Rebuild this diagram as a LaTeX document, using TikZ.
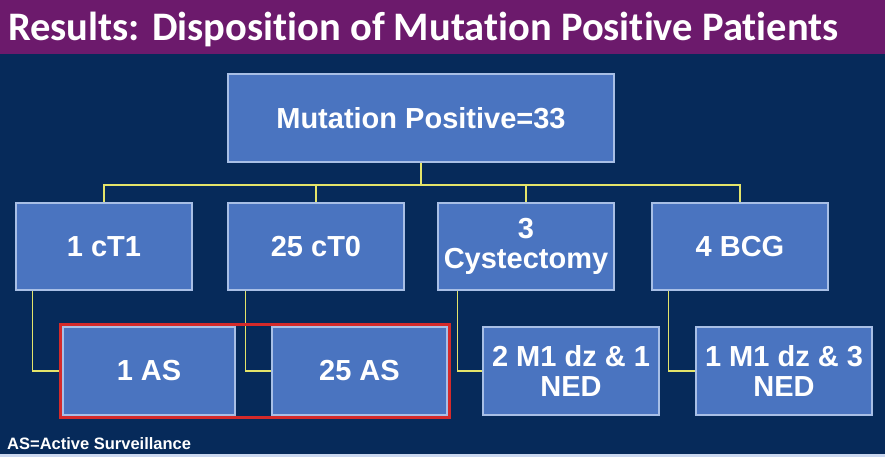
\documentclass[tikz,border=0pt]{standalone}
\usepackage{fontspec}
\setmainfont{Liberation Sans}
\newfontfamily\titlefont[Ligatures=NoCommon]{Carlito}
\usetikzlibrary{positioning, fit, calc}
\definecolor{navy}{HTML}{062A5A}
\definecolor{lila}{HTML}{6C1A6C}
\definecolor{kasten}{HTML}{4A74C0}
\definecolor{rand}{HTML}{A8BFE6}
\definecolor{linie}{HTML}{E4E46A}
\definecolor{rot}{HTML}{D42A2A}

\begin{document}
\begin{tikzpicture}[x=1pt, y=-1pt,
    box/.style={draw=rand, line width=1.2pt, fill=kasten, text=white,
      font=\fontsize{29}{30}\selectfont\bfseries, align=center,
      minimum width=176pt, minimum height=87pt, inner sep=0pt},
    conn/.style={draw=linie, line width=1.8pt},
    frame/.style={draw=rot, line width=3pt, inner sep=2pt}]
  \useasboundingbox (0,0) rectangle (885,457);
  % background and title
  \fill[navy] (0,0) rectangle (885,457);
  \fill[lila] (0,0) rectangle (885,54);
  \fill[rand!60!white] (0,454) rectangle (885,457);
  \node[anchor=base west, inner sep=0pt, text=white,
    font=\titlefont\fontsize{40.5}{41}\selectfont\bfseries] (title) at (8,41)
    {Results: Disposition of Mutation Positive Patients};
  % top box
  \node[box, minimum width=386pt, minimum height=88pt] (top) at (421,118) {Mutation Positive=33};
  % second row
  \node[box] (ct1) at (104,246.5) {1 cT1};
  \node[box] (ct0) at (316,246.5) {25 cT0};
  \node[box] (cyst) at (526,246.5) {3\\Cystectomy};
  \node[box] (bcg) at (740,246.5) {4 BCG};
  % third row
  \node[box, minimum width=172pt, minimum height=88pt] (as1) at (149,371) {1 AS};
  \node[box, minimum width=175pt, minimum height=88pt] (as25) at (359.5,371) {25 AS};
  \node[box, minimum height=88pt] (ned1) at (571,371) {2 M1 dz \& 1\\NED};
  \node[box, minimum height=88pt] (ned3) at (784,371) {1 M1 dz \& 3\\NED};
  % connectors
  \coordinate (hub) at ($(top.south)+(0,22)$);
  \foreach \c in {ct1, ct0, cyst, bcg}
    \draw[conn] (top.south) -- (hub) -| (\c.north);
  \draw[conn] ([xshift=17pt]ct1.south west) |- (as1.west);
  \draw[conn] ([xshift=18pt]ct0.south west) |- (as25.west);
  \draw[conn] ([xshift=20pt]cyst.south west) |- (ned1.west);
  \draw[conn] ([xshift=17pt]bcg.south west) |- (ned3.west);
  % active surveillance frame
  \node[frame, fit=(as1)(as25)] (asframe) {};
  \node[anchor=base west, inner sep=0pt, text=white,
    font=\fontsize{16.5}{17}\selectfont\bfseries] (note) at (7,449) {AS=Active Surveillance};
\end{tikzpicture}
\end{document}
